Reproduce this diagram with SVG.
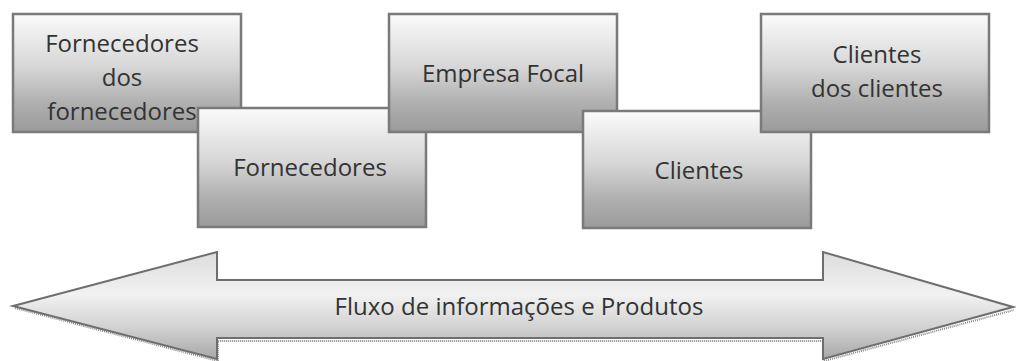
<svg xmlns="http://www.w3.org/2000/svg" width="1016" height="361" viewBox="0 0 1016 361">
  <defs>
    <linearGradient id="boxGrad" x1="0" y1="0" x2="0" y2="1">
      <stop offset="0" stop-color="#fbfbfb"/>
      <stop offset="0.45" stop-color="#d6d6d6"/>
      <stop offset="0.75" stop-color="#b0b0b0"/>
      <stop offset="1" stop-color="#9a9a9a"/>
    </linearGradient>
    <linearGradient id="arrowGrad" gradientUnits="userSpaceOnUse" x1="0" y1="252" x2="0" y2="359">
      <stop offset="0" stop-color="#dcdcdc"/>
      <stop offset="0.4" stop-color="#f2f2f2"/>
      <stop offset="0.7" stop-color="#d2d2d2"/>
      <stop offset="1" stop-color="#a8a8a8"/>
    </linearGradient>
    <style>
      .box { fill: url(#boxGrad); stroke: #7a7a7a; stroke-width: 2.5; }
      .lbl { font-family: "Open Sans", "Liberation Sans", sans-serif; font-size: 24px; fill: #333333; text-anchor: middle; }
      .arrow { fill: url(#arrowGrad); stroke: #6e6e6e; stroke-width: 2; stroke-linejoin: miter; }
      .shadow { fill: none; stroke: #8a8a8a; stroke-width: 2; stroke-dasharray: 1 1; }
    </style>
  </defs>
  <rect width="1016" height="361" fill="#ffffff"/>

  <g id="connectors">
    <g id="flow-arrow">
      <path class="shadow" d="M15,308 L218,361 L218,341 L824,341 L824,361 L1014,310"/>
      <path class="arrow" d="M13,306 L217,252 L217,280 L823,280 L823,252 L1013,307 L823,359 L823,338 L217,338 L217,359 Z"/>
      <text class="lbl" x="519" y="315">Fluxo de informações e Produtos</text>
    </g>
  </g>

  <g id="node-fornecedores-dos-fornecedores">
    <rect class="box" x="13" y="14" width="228" height="118"/>
    <text class="lbl" x="122" y="52">Fornecedores</text>
    <text class="lbl" x="122" y="86">dos</text>
    <text class="lbl" x="122" y="120">fornecedores</text>
  </g>

  <g id="node-fornecedores">
    <rect class="box" x="198" y="108" width="228" height="119"/>
    <text class="lbl" x="310" y="176">Fornecedores</text>
  </g>

  <g id="node-empresa-focal">
    <rect class="box" x="389" y="14" width="228" height="118"/>
    <text class="lbl" x="503" y="82">Empresa Focal</text>
  </g>

  <g id="node-clientes">
    <rect class="box" x="583" y="111" width="228" height="117"/>
    <text class="lbl" x="699" y="179">Clientes</text>
  </g>

  <g id="node-clientes-dos-clientes">
    <rect class="box" x="761" y="14" width="228" height="118"/>
    <text class="lbl" x="877" y="63">Clientes</text>
    <text class="lbl" x="877" y="97">dos clientes</text>
  </g>
</svg>
